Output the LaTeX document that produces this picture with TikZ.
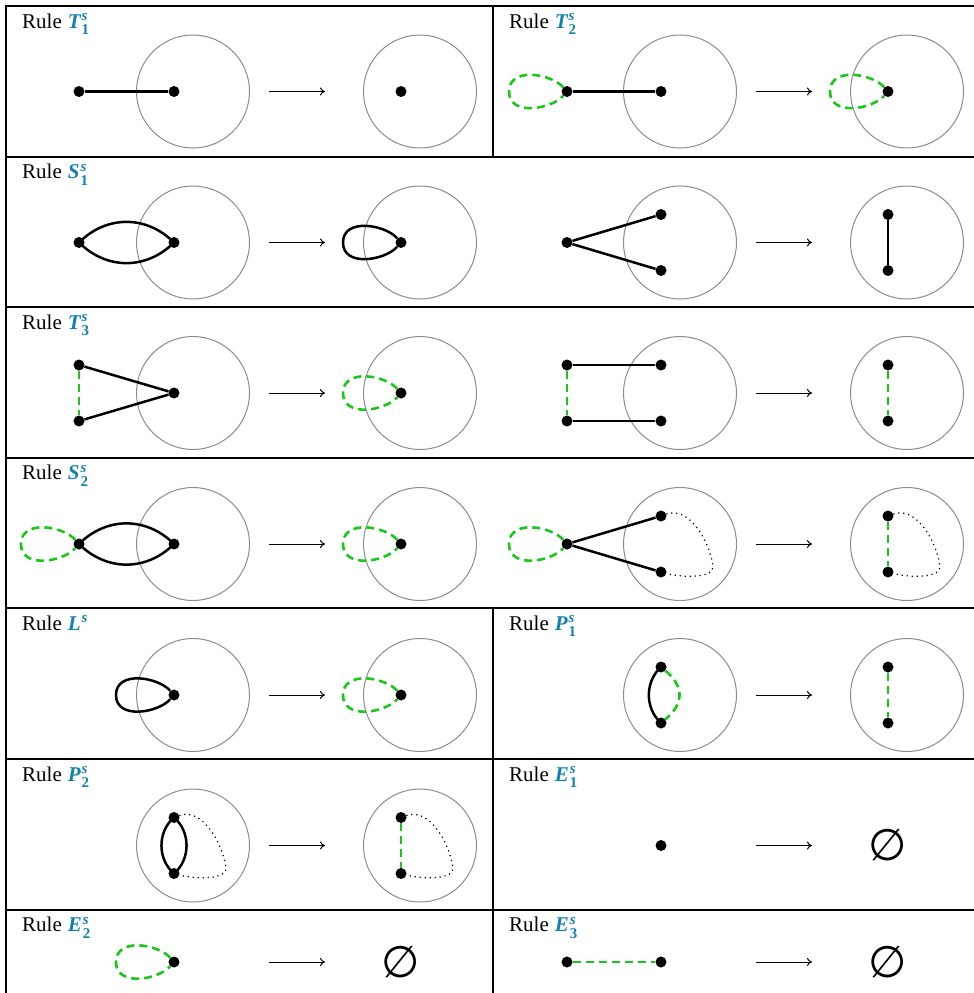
\documentclass[tikz,border=0pt]{standalone}
\usepackage{fontspec}
\setmainfont{Liberation Serif}
\usepackage{xcolor}
\usepackage{tikz}
\usetikzlibrary{arrows.meta, positioning}
\definecolor{rulecol}{RGB}{16,128,176}
\definecolor{loopgreen}{RGB}{24,200,24}
\newfontfamily\symfont{DejaVu Sans}

\newcommand{\idx}[2]{\raisebox{#1}{\fontsize{15}{15}\selectfont #2}}
\newcommand{\rulesym}[3]{\textcolor{rulecol}{\bfseries\itshape #1\kern1pt%
  \rlap{\idx{7.5pt}{#2}}\idx{-6.5pt}{\upshape #3}}}
\newcommand{\maparrow}{%
  \coordinate (arrS) at (263,0);
  \coordinate (arrT) at (319,0);
  \draw[rarr] (arrS) -- (arrT);}
\newcommand{\twoballs}{%
  \node[ring] (pre) at (187,0) {};
  \node[ring] (post) at (414,0) {};
  \maparrow}
\newcommand{\dside}[2]{%
  \draw[dotpath] (#1) .. controls +(27,10) and +(-4,27) .. ++(52,-50)
    .. controls +(2,-12) and +(22,-6) .. (#2);}
\newcommand{\lobe}[2]{%
  \draw[#1] (#2) .. controls +(-16,18) and +(0,25) .. ++(-58,0)
    .. controls +(0,-25) and +(-16,-18) .. (#2);}

\begin{document}
\begin{tikzpicture}[x=1pt, y=1pt, on grid,
        font=\fontsize{21}{25}\selectfont,
        vtx/.style={circle, fill=black, minimum size=11pt, inner sep=0pt},
        ring/.style={circle, draw=black!45, line width=1pt,
                     minimum size=113pt, inner sep=0pt},
        bond/.style={line width=2.5pt},
        gbond/.style={draw=loopgreen, line width=2.6pt, dash pattern=on 8pt off 5pt},
        dotpath/.style={line width=1.2pt, dash pattern=on 1.2pt off 3.8pt},
        rarr/.style={-{To[length=5pt,width=8pt]}, line width=1pt},
        tabline/.style={line width=2pt},
        rulelbl/.style={anchor=base west, inner sep=0pt},
        nullset/.style={font=\symfont\fontsize{44}{44}\selectfont, inner sep=0pt}]
  \useasboundingbox (0,0) rectangle (974,-993);

  % table lines
  \foreach \yy in {6,156.6,307.2,457.8,608.4,759,909.6}
    \draw[tabline] (5,-\yy) -- (974,-\yy);
  \draw[tabline] (6,-5) -- (6,-993);
  \draw[tabline] (493,-5) -- (493,-156.6);
  \draw[tabline] (493,-608.4) -- (493,-993);

  % rule names
  \node[rulelbl] (hT1) at (22,-28) {Rule\hspace{6pt}\rulesym{T}{s}{1}};
  \node[rulelbl] (hT2) at (509,-28) {Rule\hspace{6pt}\rulesym{T}{s}{2}};
  \node[rulelbl] (hS1) at (22,-178.6) {Rule\hspace{6pt}\rulesym{S}{s}{1}};
  \node[rulelbl] (hT3) at (22,-329.2) {Rule\hspace{6pt}\rulesym{T}{s}{3}};
  \node[rulelbl] (hS2) at (22,-479.8) {Rule\hspace{6pt}\rulesym{S}{s}{2}};
  \node[rulelbl] (hL) at (22,-630.4) {Rule\hspace{6pt}\textcolor{rulecol}{\bfseries\itshape L\kern1pt\idx{7.5pt}{s}}};
  \node[rulelbl] (hP1) at (509,-630.4) {Rule\hspace{6pt}\rulesym{P}{s}{1}};
  \node[rulelbl] (hP2) at (22,-781) {Rule\hspace{6pt}\rulesym{P}{s}{2}};
  \node[rulelbl] (hE1) at (509,-781) {Rule\hspace{6pt}\rulesym{E}{s}{1}};
  \node[rulelbl] (hE2) at (22,-931.6) {Rule\hspace{6pt}\rulesym{E}{s}{2}};
  \node[rulelbl] (hE3) at (509,-931.6) {Rule\hspace{6pt}\rulesym{E}{s}{3}};

  % T1
  \begin{scope}[shift={(6,-91.5)}]
    \twoballs
    \node[vtx] (a) at (73,0) {};
    \node[vtx, right=95pt of a] (b) {};
    \draw[bond] (a) -- (b);
    \node[vtx] (c) at (395,0) {};
  \end{scope}

  % T2
  \begin{scope}[shift={(493,-91.5)}]
    \twoballs
    \node[vtx] (a) at (74,0) {};
    \node[vtx, right=94pt of a] (b) {};
    \lobe{gbond}{a}
    \draw[bond] (a) -- (b);
    \node[vtx] (c) at (395,0) {};
    \lobe{gbond}{c}
  \end{scope}

  % S1
  \begin{scope}[shift={(6,-242.5)}]
    \twoballs
    \node[vtx] (a) at (73,0) {};
    \node[vtx, right=95pt of a] (b) {};
    \draw[bond] (a.center) to[bend left=45, looseness=1.05] (b.center);
    \draw[bond] (a.center) to[bend right=45, looseness=1.05] (b.center);
    \node[vtx] (c) at (395,0) {};
    \lobe{bond}{c}
  \end{scope}
  \begin{scope}[shift={(493,-242.5)}]
    \twoballs
    \node[vtx] (a) at (74,0) {};
    \node[vtx] (b1) at (168,28) {};
    \node[vtx, below=56pt of b1] (b2) {};
    \draw[bond] (a) -- (b1);
    \draw[bond] (a) -- (b2);
    \node[vtx] (c1) at (395,28) {};
    \node[vtx, below=56pt of c1] (c2) {};
    \draw[bond] (c1) -- (c2);
  \end{scope}

  % T3
  \begin{scope}[shift={(6,-393)}]
    \twoballs
    \node[vtx] (a1) at (73,28) {};
    \node[vtx, below=56pt of a1] (a2) {};
    \node[vtx] (b) at (168,0) {};
    \draw[bond] (a1) -- (b);
    \draw[bond] (a2) -- (b);
    \draw[gbond] (a1) -- (a2);
    \node[vtx] (c) at (395,0) {};
    \lobe{gbond}{c}
  \end{scope}
  \begin{scope}[shift={(493,-393)}]
    \twoballs
    \node[vtx] (a1) at (74,28) {};
    \node[vtx, below=56pt of a1] (a2) {};
    \node[vtx, right=94pt of a1] (b1) {};
    \node[vtx, right=94pt of a2] (b2) {};
    \draw[bond] (a1) -- (b1);
    \draw[bond] (a2) -- (b2);
    \draw[gbond] (a1) -- (a2);
    \node[vtx] (c1) at (395,28) {};
    \node[vtx, below=56pt of c1] (c2) {};
    \draw[gbond] (c1) -- (c2);
  \end{scope}

  % S2
  \begin{scope}[shift={(6,-544)}]
    \twoballs
    \node[vtx] (a) at (73,0) {};
    \node[vtx, right=95pt of a] (b) {};
    \lobe{gbond}{a}
    \draw[bond] (a.center) to[bend left=45, looseness=1.05] (b.center);
    \draw[bond] (a.center) to[bend right=45, looseness=1.05] (b.center);
    \node[vtx] (c) at (395,0) {};
    \lobe{gbond}{c}
  \end{scope}
  \begin{scope}[shift={(493,-544)}]
    \twoballs
    \node[vtx] (a) at (74,0) {};
    \node[vtx] (b1) at (168,28) {};
    \node[vtx, below=56pt of b1] (b2) {};
    \lobe{gbond}{a}
    \draw[bond] (a) -- (b1);
    \draw[bond] (a) -- (b2);
    \dside{b1}{b2}
    \node[vtx] (c1) at (395,28) {};
    \node[vtx, below=56pt of c1] (c2) {};
    \draw[gbond] (c1) -- (c2);
    \dside{c1}{c2}
  \end{scope}

  % L
  \begin{scope}[shift={(6,-695)}]
    \twoballs
    \node[vtx] (b) at (168,0) {};
    \lobe{bond}{b}
    \node[vtx] (c) at (395,0) {};
    \lobe{gbond}{c}
  \end{scope}

  % P1
  \begin{scope}[shift={(493,-695)}]
    \twoballs
    \node[vtx] (b1) at (168,28) {};
    \node[vtx, below=56pt of b1] (b2) {};
    \draw[bond] (b1.center) to[bend right=48] (b2.center);
    \draw[gbond] (b1) to[bend left=50, looseness=1.3] (b2);
    \node[vtx] (c1) at (395,28) {};
    \node[vtx, below=56pt of c1] (c2) {};
    \draw[gbond] (c1) -- (c2);
  \end{scope}

  % P2
  \begin{scope}[shift={(6,-845.5)}]
    \twoballs
    \node[vtx] (b1) at (168,28) {};
    \node[vtx, below=56pt of b1] (b2) {};
    \draw[bond] (b1.center) to[bend right=50] (b2.center);
    \draw[bond] (b1.center) to[bend left=50] (b2.center);
    \dside{b1}{b2}
    \node[vtx] (c1) at (395,28) {};
    \node[vtx, below=56pt of c1] (c2) {};
    \draw[gbond] (c1) -- (c2);
    \dside{c1}{c2}
  \end{scope}

  % E1
  \begin{scope}[shift={(493,-845.5)}]
    \maparrow
    \node[vtx] (b) at (168,0) {};
    \node[nullset] (nil) at (395,0) {∅};
  \end{scope}

  % E2
  \begin{scope}[shift={(6,-962)}]
    \maparrow
    \node[vtx] (b) at (168,0) {};
    \lobe{gbond}{b}
    \node[nullset] (nil) at (395,0) {∅};
  \end{scope}

  % E3
  \begin{scope}[shift={(493,-962)}]
    \maparrow
    \node[vtx] (a) at (74,0) {};
    \node[vtx, right=94pt of a] (b) {};
    \draw[gbond] (a) -- (b);
    \node[nullset] (nil) at (395,0) {∅};
  \end{scope}
\end{tikzpicture}
\end{document}
